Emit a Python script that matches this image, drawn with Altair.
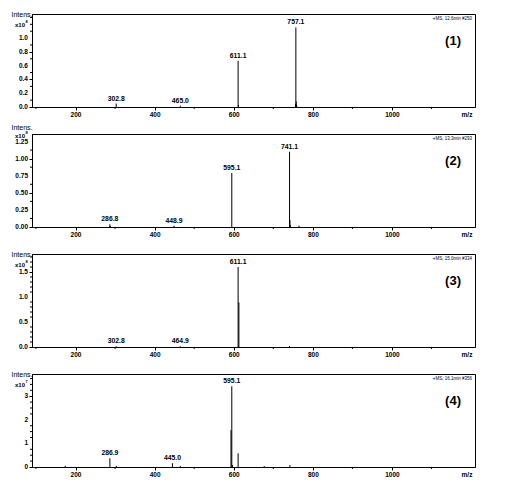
import altair as alt
import pandas as pd

FONT = "Liberation Sans"
W, H = 443, 93

# x axis (m/z)
x_domain = [90, 1210]
x_minor = [100, 300, 500, 700, 900, 1100]
x_labels = [200, 400, 600, 800, 1000]

# Panel 1
p1_mz = [302.8, 465.0, 611.1, 612.1, 756.1, 757.1, 758.1, 759.1]
p1_int = [0.05, 0.02, 0.67, 0.03, 0.04, 1.155, 0.08, 0.03]
p1_lab = ["302.8", "465.0", "611.1", "", "", "757.1", "", ""]
p1_yminor = [0.1, 0.3, 0.5, 0.7, 0.9, 1.1, 1.2, 1.3]
p1_ylabels = [0, 0.2, 0.4, 0.6, 0.8, 1.0]
p1_ymax = 1.35

# Panel 2
p2_mz = [286.8, 288.0, 448.9, 595.1, 741.1, 742.1, 743.1, 765.0]
p2_int = [0.04, 0.015, 0.02, 0.79, 1.1, 0.1, 0.03, 0.02]
p2_lab = ["286.8", "", "448.9", "595.1", "741.1", "", "", ""]
p2_yminor = [0.125, 0.375, 0.625, 0.875, 1.125]
p2_ylabels = [0, 0.25, 0.5, 0.75, 1.0, 1.25]
p2_ymax = 1.36

# Panel 3
p3_mz = [302.8, 464.9, 611.1, 613.1, 741.0]
p3_int = [0.015, 0.015, 1.60, 0.89, 0.02]
p3_lab = ["302.8", "464.9", "611.1", "", ""]
p3_yminor = [0.1, 0.2, 0.3, 0.4, 0.6, 0.7, 0.8, 0.9, 1.1, 1.2, 1.3, 1.4, 1.6, 1.7, 1.8]
p3_ylabels = [0, 0.5, 1.0, 1.5]
p3_ymax = 1.86

# Panel 4
p4_mz = [174.0, 286.9, 303.0, 445.0, 465.0, 593.1, 595.1, 597.1, 611.1, 677.0, 742.0]
p4_int = [0.05, 0.37, 0.05, 0.16, 0.04, 1.56, 3.42, 0.08, 0.58, 0.04, 0.08]
p4_lab = ["", "286.9", "", "445.0", "", "", "595.1", "", "", "", ""]
p4_yminor = [0.25, 0.5, 0.75, 1.25, 1.5, 1.75, 2.25, 2.5, 2.75, 3.25, 3.5, 3.75]
p4_ylabels = [0, 1, 2, 3]
p4_ymax = 3.94

headers = ["+MS, 12.6min #250", "+MS, 13.3min #293", "+MS, 15.0min #334", "+MS, 16.1min #356"]
exponents = ["8", "8", "8", "7"]
numbers = ["(1)", "(2)", "(3)", "(4)"]
y_formats = [".1f", ".2f", ".1f", "d"]


def panel(mz, inten, lab, yminor, ylabels, ymax, yfmt, header, expo, num, compact=False):
    df = pd.DataFrame({"mz": mz, "int": inten, "label": lab})
    xscale = alt.Scale(domain=x_domain, nice=False, zero=False)
    yscale = alt.Scale(domain=[0, ymax], nice=False, zero=True)
    title_y, x10_y, exp_y = (-6.5, 2, -0.8) if compact else (0.5, 11, 7.5)
    xenc = alt.X(
        "mz:Q", scale=xscale,
        axis=alt.Axis(values=x_labels, format="d", title=None, grid=False,
                      labelOverlap=False, labelFlush=False),
    )
    yenc = alt.Y(
        "int:Q", scale=yscale,
        axis=alt.Axis(
            values=ylabels, labels=False,
            title="Intens.", titleAngle=0, titleAlign="right", titleBaseline="middle",
            titleX=0, titleY=title_y, titleFontSize=7, titleFontWeight="normal", titleFont=FONT,
            grid=False,
        ),
    )
    base = alt.Chart(df)
    rules = base.mark_rule(color="black", strokeWidth=1).encode(x=xenc, y=yenc, y2=alt.datum(0))
    texts = base.transform_filter("datum.label != ''").mark_text(
        baseline="bottom", dy=-2, fontSize=6.8, font=FONT, fontWeight="bold", color="black"
    ).encode(x="mz:Q", y="int:Q", text="label:N")

    # y tick labels (drawn as text through the y scale)
    ylab_t = alt.Chart(pd.DataFrame({"v": ylabels})).mark_text(
        align="right", baseline="middle", fontSize=6.5, font=FONT, fontWeight="bold", color="black"
    ).encode(y=alt.Y("v:Q", scale=yscale), x=alt.value(-4), text=alt.Text("v:Q", format=yfmt))

    # minor ticks
    ymin_t = alt.Chart(pd.DataFrame({"v": yminor})).mark_rule(color="black", strokeWidth=1).encode(
        y=alt.Y("v:Q", scale=yscale), x=alt.value(-2), x2=alt.value(0)
    )
    xmin_t = alt.Chart(pd.DataFrame({"v": x_minor})).mark_rule(color="black", strokeWidth=1).encode(
        x=alt.X("v:Q", scale=xscale), y=alt.value(H), y2=alt.value(H + 2)
    )

    def note(t, x, y, **kw):
        return alt.Chart(pd.DataFrame({"t": [t]})).mark_text(font=FONT, color="black", **kw).encode(
            x=alt.value(x), y=alt.value(y), text="t:N"
        )

    hdr = note(header, W - 3, 5, fontSize=4.5, align="right", baseline="middle")
    x10 = note("x10", -7, x10_y, fontSize=6, align="right", baseline="middle", fontWeight="bold")
    ex = note(expo, -6.5, exp_y, fontSize=4, align="left", baseline="middle", fontWeight="bold")
    nb = note(num, W - 14, 27, fontSize=13, align="right", baseline="middle", fontWeight="bold")
    mzl = note("m/z", W - 8, H + 8, fontSize=6.5, align="center", baseline="middle", fontWeight="bold")
    return alt.layer(rules, texts, ylab_t, ymin_t, xmin_t, hdr, x10, ex, nb, mzl).properties(width=W, height=H)


panels = [
    panel(p1_mz, p1_int, p1_lab, p1_yminor, p1_ylabels, p1_ymax, y_formats[0], headers[0], exponents[0], numbers[0]),
    panel(p2_mz, p2_int, p2_lab, p2_yminor, p2_ylabels, p2_ymax, y_formats[1], headers[1], exponents[1], numbers[1], compact=True),
    panel(p3_mz, p3_int, p3_lab, p3_yminor, p3_ylabels, p3_ymax, y_formats[2], headers[2], exponents[2], numbers[2]),
    panel(p4_mz, p4_int, p4_lab, p4_yminor, p4_ylabels, p4_ymax, y_formats[3], headers[3], exponents[3], numbers[3]),
]

chart = alt.vconcat(*panels, spacing=27, bounds="flush").properties(
    padding={"left": 2, "top": 2, "right": 5, "bottom": 5}
).configure(background="white").configure_view(
    stroke="black", strokeWidth=1
).configure_axis(
    domainColor="black", tickColor="black", labelColor="black", labelFont=FONT,
    labelFontSize=6.5, labelFontWeight="bold", tickSize=3, labelPadding=1, titleColor="black",
)

chart.save("out.html", embed_options={"renderer": "svg", "actions": False})
